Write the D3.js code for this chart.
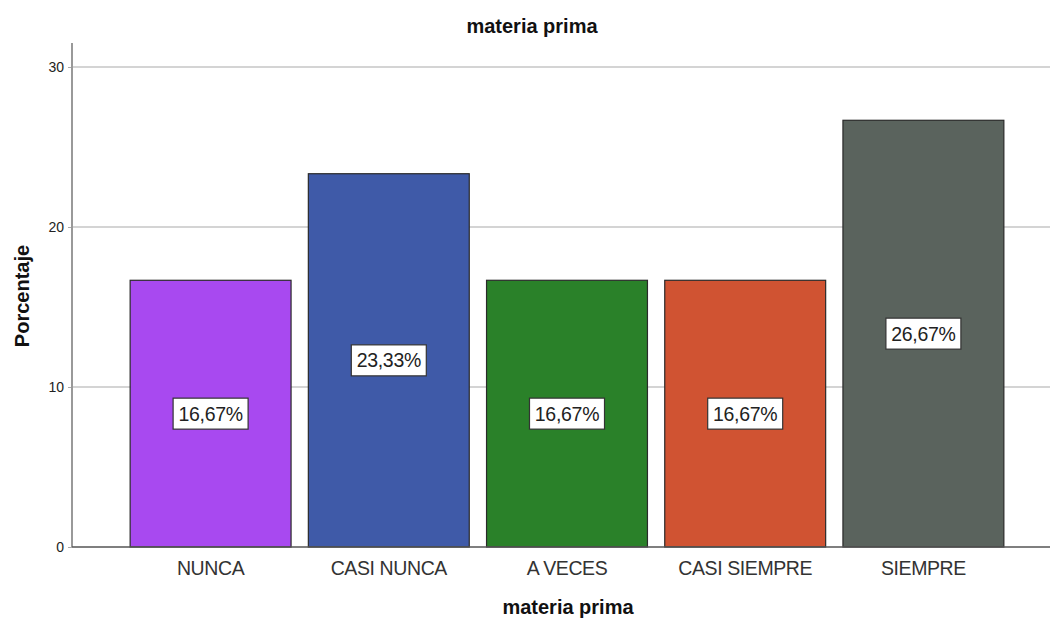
<!DOCTYPE html>
<html>
<head>
<meta charset="utf-8">
<script src="https://cdn.jsdelivr.net/npm/d3@7"></script>
<style>
  html, body { margin: 0; padding: 0; background: #fff; }
  svg { display: block; font-family: "Liberation Sans", Arial, sans-serif; }
</style>
</head>
<body>
<svg id="chart" width="1052" height="618"></svg>
<script>
// Categories and percentages
const categories = ["NUNCA", "CASI NUNCA", "A VECES", "CASI SIEMPRE", "SIEMPRE"];
const percentages = [16.67, 23.33, 16.67, 16.67, 26.67];
const barColors = ["#a849f0", "#3f5aa8", "#2a8129", "#d05332", "#5a635d"];
const yTicks = [0, 10, 20, 30];
const chartTitle = "materia prima";
const xTitle = "materia prima";
const yTitle = "Porcentaje";

const svg = d3.select("#chart");
const plot = { left: 72, right: 1050, top: 43, bottom: 547 };

const y = d3.scaleLinear().domain([0, 30]).range([plot.bottom, 67]);
const x = d3.scaleBand()
  .domain(categories)
  .range([121.5, 1012.5])
  .paddingInner(0.097)
  .paddingOuter(0.0485);

// Horizontal gridlines
svg.append("g")
  .selectAll("line")
  .data(yTicks.filter(t => t > 0))
  .join("line")
  .attr("x1", plot.left).attr("x2", plot.right)
  .attr("y1", d => y(d)).attr("y2", d => y(d))
  .attr("stroke", "#d4d4d4").attr("stroke-width", 2);

// Y axis
const yAxis = svg.append("g")
  .attr("transform", `translate(${plot.left},0)`)
  .call(d3.axisLeft(y).tickValues(yTicks).tickSize(4).tickPadding(4));
yAxis.select(".domain").remove();
yAxis.selectAll(".tick line").attr("stroke", "#aaa");
yAxis.selectAll(".tick text")
  .attr("font-size", 14).attr("fill", "#222")
  .attr("font-family", "Liberation Sans, Arial, sans-serif");
svg.append("line")
  .attr("x1", plot.left).attr("x2", plot.left)
  .attr("y1", plot.top).attr("y2", plot.bottom)
  .attr("stroke", "#999").attr("stroke-width", 2);

// Bars
svg.append("g")
  .selectAll("rect")
  .data(categories)
  .join("rect")
  .attr("x", d => x(d))
  .attr("width", x.bandwidth())
  .attr("y", (d, i) => y(percentages[i]))
  .attr("height", (d, i) => y(0) - y(percentages[i]))
  .attr("fill", (d, i) => barColors[i])
  .attr("stroke", "#2a2a2a").attr("stroke-width", 1.2);

// Baseline
svg.append("line")
  .attr("x1", plot.left).attr("x2", plot.right)
  .attr("y1", plot.bottom).attr("y2", plot.bottom)
  .attr("stroke", "#555").attr("stroke-width", 1.5);

// Value labels in boxes, centred within each bar
const fmt = v => v.toFixed(2).replace(".", ",") + "%";
const labels = svg.append("g")
  .selectAll("g")
  .data(categories)
  .join("g")
  .attr("transform", (d, i) => `translate(${x(d) + x.bandwidth() / 2},${y(percentages[i] / 2)})`);
labels.append("rect")
  .attr("x", -37.5).attr("y", -15.5)
  .attr("width", 75).attr("height", 31)
  .attr("fill", "#fff").attr("stroke", "#333").attr("stroke-width", 1.2);
labels.append("text")
  .attr("text-anchor", "middle")
  .attr("dy", "0.36em")
  .attr("font-size", 19.5)
  .attr("letter-spacing", "-0.3")
  .attr("fill", "#222")
  .text((d, i) => fmt(percentages[i]));

// Category labels
svg.append("g")
  .selectAll("text")
  .data(categories)
  .join("text")
  .attr("x", d => x(d) + x.bandwidth() / 2)
  .attr("y", 575)
  .attr("text-anchor", "middle")
  .attr("font-size", 19.5)
  .attr("letter-spacing", "-0.4")
  .attr("fill", "#333")
  .text(d => d);

// Titles
svg.append("text")
  .attr("x", 532).attr("y", 33)
  .attr("text-anchor", "middle")
  .attr("font-size", 20).attr("font-weight", "bold").attr("fill", "#111")
  .text(chartTitle);
svg.append("text")
  .attr("x", 568).attr("y", 614)
  .attr("text-anchor", "middle")
  .attr("font-size", 20).attr("font-weight", "bold").attr("fill", "#111")
  .text(xTitle);
svg.append("text")
  .attr("transform", "translate(29,296) rotate(-90)")
  .attr("text-anchor", "middle")
  .attr("font-size", 20).attr("font-weight", "bold").attr("fill", "#111")
  .text(yTitle);
</script>
</body>
</html>
